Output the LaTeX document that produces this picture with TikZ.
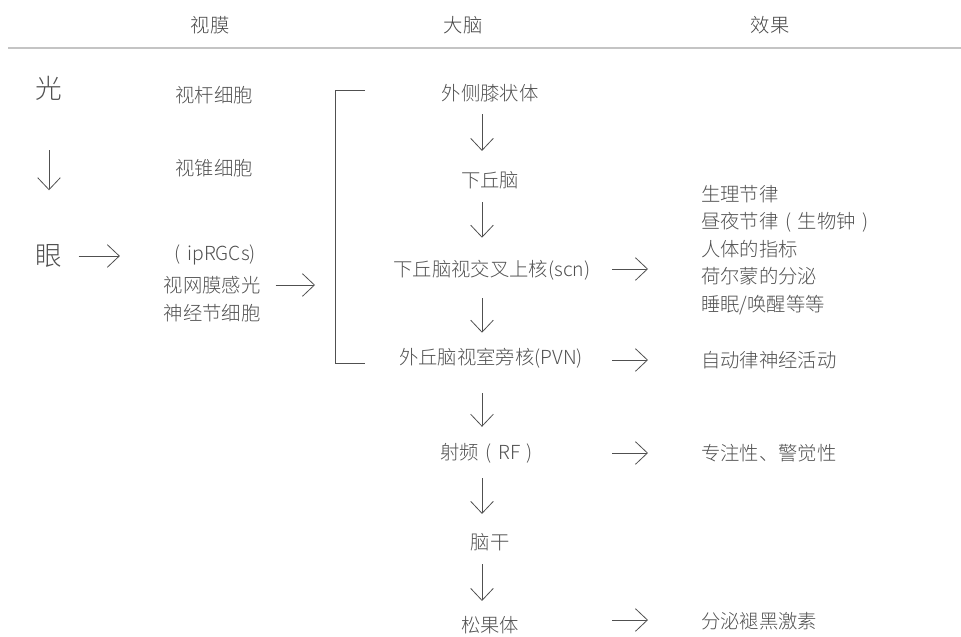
\documentclass[tikz,border=0pt]{standalone}
\usepackage{fontspec}
\setmainfont{Noto Sans CJK SC Light}
\usetikzlibrary{arrows.meta}
\definecolor{txt}{HTML}{505050}
\definecolor{hdr}{HTML}{454545}
\definecolor{rule}{HTML}{C4C4C4}
\newcommand\fwlp{\makebox[1em]{(}}
\newcommand\fwrp{\makebox[1em]{)}}
\begin{document}
\begin{tikzpicture}[x=0.75pt,y=-0.75pt,
  lbl/.style={inner sep=0pt, text=txt, font=\fontsize{14.5}{20.6}\selectfont},
  head/.style={inner sep=0pt, text=hdr, font=\fontsize{14.5}{20.6}\selectfont},
  big/.style={inner sep=0pt, text=txt, font=\fontsize{20}{24}\selectfont},
  arr/.style={draw=txt, line width=0.6pt, -{Straight Barb[length=9pt,width=17pt]}},
  brk/.style={draw=txt, line width=0.6pt}]
\useasboundingbox (0,0) rectangle (961,636);
% header
\node[head] (h1) at (210,25) {视膜};
\node[head] (h2) at (463,25) {大脑};
\node[head] (h3) at (770,25) {效果};
\coordinate (rl) at (8,48);
\coordinate (rr) at (961,48);
\draw[rule, line width=1.1pt] (rl) -- (rr);
% left column
\node[big] (light) at (49,88) {光};
\node[big] (eye) at (49,256) {眼};
\draw[arr, shorten <=37.5pt, shorten >=40.5pt] (light) -- (eye);
% retina column
\node[lbl] (rod) at (214,95) {视杆细胞};
\node[lbl] (cone) at (214,168) {视锥细胞};
\node[lbl] (ip) at (212,255) {\fwlp ipRGCs)};
\node[lbl] (rgc) at (212,285) {视网膜感光};
\node[lbl] (gang) at (212,313) {神经节细胞};
\draw[arr, shorten <=12pt, shorten >=36pt] (eye.east) -- (eye.east -| ip.west);
% bracket
\coordinate (bt) at (365,90);
\coordinate (bc) at (335,90);
\coordinate (bd) at (335,363);
\coordinate (bb) at (365,363);
\draw[brk] (bt) -- (bc) -- (bd) -- (bb);
\draw[arr, shorten <=11.25pt, shorten >=15pt] (rgc.east) -- (rgc.east -| bc);
% brain column
\coordinate (ax) at (482,0);
\node[lbl] (lgn) at (490,93) {外侧膝状体};
\node[lbl] (hyp) at (490,180) {下丘脑};
\node[lbl] (scn) at (492,270) {下丘脑视交叉上核(scn)};
\node[lbl] (pvn) at (491,358) {外丘脑视室旁核(PVN)};
\node[lbl] (rf) at (490,453) {射频\fwlp RF\fwrp};
\node[lbl] (bs) at (490,542) {脑干};
\node[lbl] (pin) at (490,625) {松果体};
\draw[arr, shorten <=9pt, shorten >=15pt] (lgn.south -| ax) -- (hyp.north -| ax);
\draw[arr, shorten <=9.75pt, shorten >=16.5pt] (hyp.south -| ax) -- (scn.north -| ax);
\draw[arr, shorten <=13.5pt, shorten >=11.25pt] (scn.south -| ax) -- (pvn.north -| ax);
\draw[arr, shorten <=18.75pt, shorten >=12pt] (pvn.south -| ax) -- (rf.north -| ax);
\draw[arr, shorten <=11.25pt, shorten >=14.25pt] (rf.south -| ax) -- (bs.north -| ax);
\draw[arr, shorten <=9.75pt, shorten >=11.25pt] (bs.south -| ax) -- (pin.north -| ax);
% effects
\node[lbl, anchor=west, align=left] (e1) at (701,250) {生理节律\\昼夜节律\fwlp 生物钟\fwrp\\人体的指标\\荷尔蒙的分泌\\睡眠/唤醒等等};
\node[lbl, anchor=west] (e2) at (701,360) {自动律神经活动};
\node[lbl, anchor=west] (e3) at (701,453) {专注性、警觉性};
\node[lbl, anchor=west] (e4) at (701,621) {分泌褪黑激素};
\coordinate (s1) at (612,269);
\coordinate (s2) at (612,360);
\coordinate (s3) at (612,453);
\coordinate (s4) at (612,620);
\draw[arr, shorten >=39.75pt] (s1) -- (s1 -| e1.west);
\draw[arr, shorten >=39.75pt] (s2) -- (e2.west |- s2);
\draw[arr, shorten >=39.75pt] (s3) -- (e3.west |- s3);
\draw[arr, shorten >=39.75pt] (s4) -- (e4.west |- s4);
\end{tikzpicture}
\end{document}
